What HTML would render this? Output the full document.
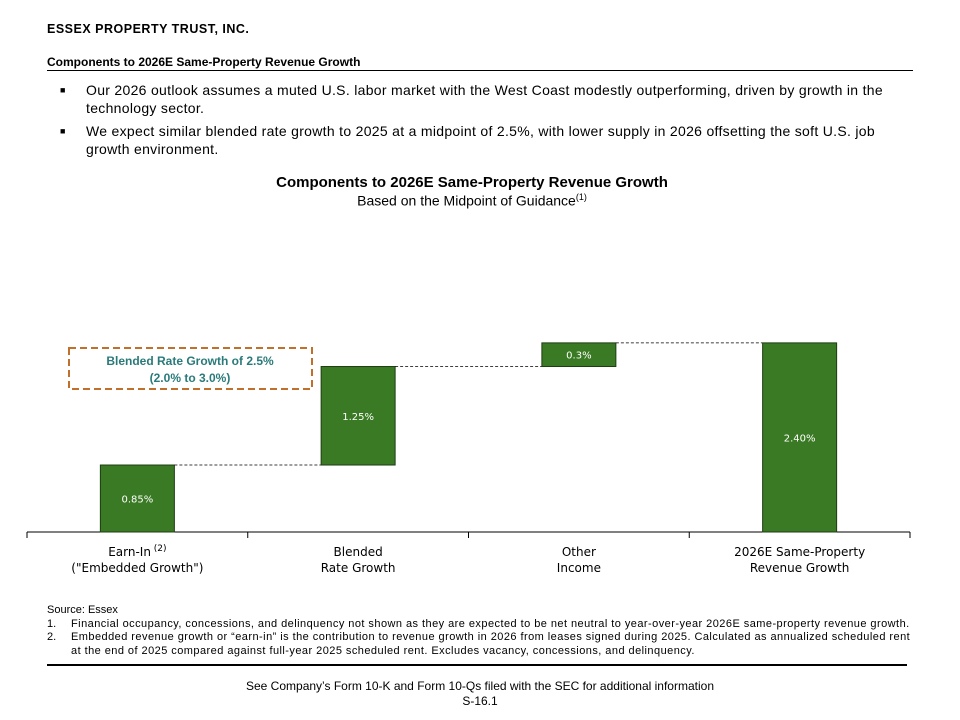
<!DOCTYPE html>
<html><head><meta charset="utf-8"><style>
body{margin:0;width:960px;height:720px;background:#fff;font-family:"Liberation Sans",sans-serif;color:#000;position:relative;overflow:hidden}
.abs{position:absolute}
</style></head><body>
<div class="abs" style="left:47px;top:22px;font-size:12.5px;font-weight:bold;letter-spacing:0.5px">ESSEX PROPERTY TRUST, INC.</div>
<div class="abs" style="left:47px;top:55px;font-size:12px;font-weight:bold">Components to 2026E Same-Property Revenue Growth</div>
<div class="abs" style="left:47px;top:70px;width:866px;height:1px;background:#000"></div>
<div class="abs" style="left:60px;top:81px;width:880px;font-size:14px;line-height:18px;letter-spacing:0.3px;white-space:nowrap">
<div style="position:relative;padding-left:26px">
<span style="position:absolute;left:0;top:0;font-size:9px">■</span>Our 2026 outlook assumes a muted U.S. labor market with the West Coast modestly outperforming, driven by growth in the<br>technology sector.</div>
<div style="position:relative;padding-left:26px;margin-top:5px">
<span style="position:absolute;left:0;top:0;font-size:9px">■</span>We expect similar blended rate growth to 2025 at a midpoint of 2.5%, with lower supply in 2026 offsetting the soft U.S. job<br>growth environment.</div>
</div>
<div class="abs" style="left:0;width:944px;text-align:center;top:174px;font-size:15px;font-weight:bold">Components to 2026E Same-Property Revenue Growth</div>
<div class="abs" style="left:0;width:944px;text-align:center;top:192px;font-size:14px">Based on the Midpoint of Guidance<sup style="font-size:9px">(1)</sup></div>

<svg class="abs" style="left:0;top:0" width="960" height="720">
<g id="g"></g>
<rect x="69" y="348" width="243" height="41" fill="none" stroke="#c0702a" stroke-width="2" stroke-dasharray="7,4"/>
<text x="190" y="365" text-anchor="middle" font-family="Liberation Sans, sans-serif" font-size="12" font-weight="bold" fill="#2a7a7a">Blended Rate Growth of 2.5%</text>
<text x="190" y="382" text-anchor="middle" font-family="Liberation Sans, sans-serif" font-size="12" font-weight="bold" fill="#2a7a7a">(2.0% to 3.0%)</text>
</svg>

<div class="abs" style="left:47px;top:604px;width:900px;font-size:11px;line-height:13.5px;white-space:nowrap">
<div>Source: Essex</div>
<div style="position:relative;padding-left:24px;letter-spacing:0.45px"><span style="position:absolute;left:0;letter-spacing:0">1.</span>Financial occupancy, concessions, and delinquency not shown as they are expected to be net neutral to year-over-year 2026E same-property revenue growth.</div>
<div style="position:relative;padding-left:24px;letter-spacing:0.45px"><span style="position:absolute;left:0;letter-spacing:0">2.</span>Embedded revenue growth or “earn-in” is the contribution to revenue growth in 2026 from leases signed during 2025. Calculated as annualized scheduled rent<br>at the end of 2025 compared against full-year 2025 scheduled rent. Excludes vacancy, concessions, and delinquency.</div>
</div>
<div class="abs" style="left:47px;top:664px;width:860px;height:2px;background:#000"></div>
<div class="abs" style="left:0;width:960px;text-align:center;top:679px;font-size:12px">See Company’s Form 10-K and Form 10-Qs filed with the SEC for additional information</div>
<div class="abs" style="left:0;width:960px;text-align:center;top:694px;font-size:12px">S-16.1</div>

<script>
const categories=[["Earn-In","(\"Embedded Growth\")"],["Blended","Rate Growth"],["Other","Income"],["2026E Same-Property","Revenue Growth"]];
const values=[0.85,1.25,0.3,2.40];
const isTotal=[false,false,false,true];
const valueLabels=["0.85%","1.25%","0.3%","2.40%"];
const NS="http://www.w3.org/2000/svg";
const g=document.getElementById('g');
const x0=27,x1=910,base=532,pxPer=78.8;
const band=(x1-x0)/categories.length;
const xc=i=>x0+band*(i+0.5);
const y=v=>base-v*pxPer;
function mk(t,a){const e=document.createElementNS(NS,t);for(const k in a)e.setAttribute(k,a[k]);g.appendChild(e);return e;}
let ax=mk('line',{x1:x0,x2:x1,y1:base,y2:base,stroke:'#000','stroke-width':1});


for(let i=0;i<=categories.length;i++){const t=mk('line',{x1:x0+band*i,x2:x0+band*i,y1:base,y2:base+6,stroke:'#000'});

}
let cum=0;const bw=74;
values.forEach((v,i)=>{
 const lo=isTotal[i]?0:cum, hi=isTotal[i]?v:cum+v;
 const r=mk('rect',{x:xc(i)-bw/2,y:y(hi),width:bw,height:y(lo)-y(hi),fill:'#3a7a24',stroke:'#1e3d12','stroke-width':1});
 
 
 const t=mk('text',{x:xc(i),y:(y(lo)+y(hi))/2+4,'text-anchor':'middle','font-family':'DejaVu Sans, sans-serif','font-size':10,fill:'#fff'});
 t.textContent=valueLabels[i];
 
 
 if(i<values.length-1){const c=mk('line',{x1:xc(i)+bw/2,x2:xc(i+1)-bw/2,y1:y(hi),y2:y(hi),stroke:'#000','stroke-dasharray':'3,2','stroke-width':0.8});
 
 }
 if(!isTotal[i])cum=hi;
 categories[i].forEach((s,j)=>{const l=mk('text',{x:xc(i),y:556+j*16,'text-anchor':'middle','font-family':'DejaVu Sans, sans-serif','font-size':12,fill:'#000'});
 l.textContent=s;
 if(i===0&&j===0){const sp=document.createElementNS(NS,'tspan');sp.setAttribute('dy','-5');sp.setAttribute('font-size','9');sp.textContent=' (2)';l.appendChild(sp);}
 
 });
});
</script>
</body></html>
